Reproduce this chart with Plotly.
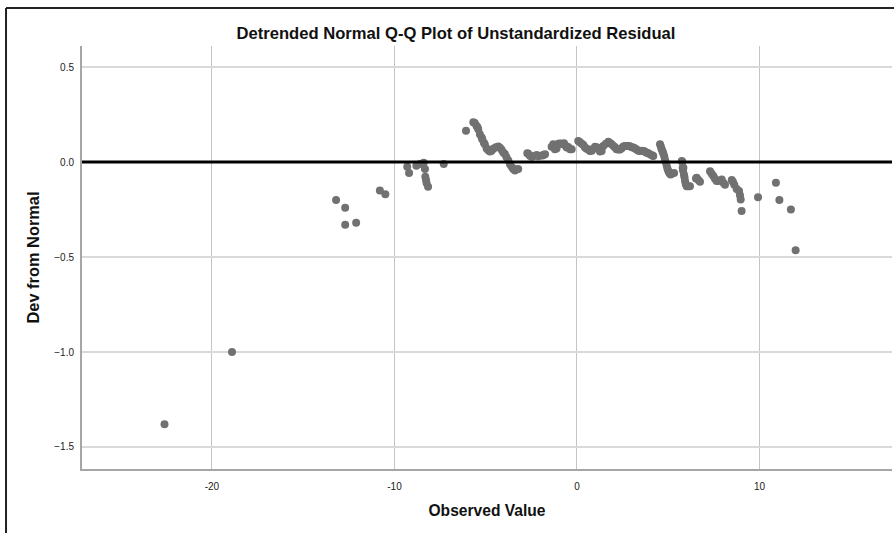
import plotly.graph_objects as go

title_text = "Detrended Normal Q-Q Plot of Unstandardized Residual"
x_title = "Observed Value"
y_title = "Dev from Normal"
x_ticks = [-20, -10, 0, 10]
y_ticks = [-1.5, -1.0, -0.5, 0.0, 0.5]

observed_value = [
    -22.6, -18.9, -13.2, -12.7, -12.7, -12.1, -10.8, -10.5,
    -9.3, -9.2, -8.8, -8.6, -8.4, -8.33, -8.31, -8.27, -8.24, -8.16, -7.3,
    -6.08, -5.68, -5.6, -5.5, -5.45, -5.41, -5.32, -5.22, -5.19, -5.1, -5.05, -4.95, -4.86, -4.77,
    -4.68, -4.58, -4.45, -4.31, -4.22, -4.13, -4.04, -3.95, -3.86, -3.76, -3.67, -3.58, -3.49, -3.4, -3.31, -3.22,
    -2.72, -2.67, -2.58, -2.48, -2.36, -2.21, -2.12, -1.93, -1.85, -1.75,
    -1.39, -1.3, -1.21, -1.12, -1.02, -0.93, -0.84, -0.75, -0.71, -0.62, -0.56, -0.48, -0.38, -0.29,
    0.07, 0.16, 0.26, 0.35, 0.44, 0.53, 0.62, 0.71, 0.81, 0.9, 0.99, 1.08, 1.17, 1.26, 1.35, 1.44,
    1.58, 1.72, 1.81, 1.9, 2.0, 2.08, 2.17, 2.27, 2.36, 2.45, 2.54, 2.63, 2.72, 2.81, 2.9, 3.0, 3.09, 3.18,
    3.27, 3.36, 3.45, 3.56, 3.67, 3.78, 3.82, 3.91, 4.02, 4.13, 4.18,
    4.55, 4.6, 4.64, 4.69, 4.73, 4.78, 4.82, 4.87, 4.92, 4.96, 5.01, 5.06, 5.1, 5.13, 5.19, 5.32,
    5.74, 5.77, 5.79, 5.81, 5.83, 5.86, 5.89, 5.92, 5.96, 6.01, 6.1, 6.19,
    6.52, 6.56, 6.65, 6.74, 7.29, 7.38, 7.47, 7.56, 7.65, 7.74, 7.93, 8.02, 8.11,
    8.48, 8.55, 8.62, 8.75, 8.88, 8.93, 8.97, 9.02,
    9.92, 10.9, 11.09, 11.72, 11.98,
]
dev_from_normal = [
    -1.38, -1.00, -0.20, -0.24, -0.33, -0.32, -0.15, -0.17,
    -0.025, -0.058, -0.02, -0.01, -0.004, -0.037, -0.078, -0.095, -0.11, -0.13, -0.01,
    0.165, 0.21, 0.205, 0.19, 0.183, 0.173, 0.146, 0.129, 0.12, 0.102, 0.094, 0.072, 0.062, 0.055,
    0.06, 0.07, 0.078, 0.082, 0.075, 0.065, 0.05, 0.043, 0.025, 0.008, -0.012, -0.026, -0.036, -0.044, -0.038, -0.036,
    0.046, 0.044, 0.033, 0.028, 0.032, 0.037, 0.03, 0.034, 0.036, 0.041,
    0.08, 0.094, 0.067, 0.072, 0.097, 0.098, 0.096, 0.094, 0.099, 0.086, 0.076, 0.079, 0.068, 0.067,
    0.111, 0.104, 0.096, 0.09, 0.076, 0.07, 0.066, 0.058, 0.06, 0.07, 0.08, 0.078, 0.072, 0.055, 0.058, 0.085,
    0.096, 0.107, 0.1, 0.094, 0.085, 0.078, 0.067, 0.066, 0.066, 0.073, 0.082, 0.085, 0.085, 0.085, 0.083, 0.078, 0.076, 0.072,
    0.066, 0.06, 0.058, 0.06, 0.058, 0.052, 0.049, 0.047, 0.04, 0.035, 0.032,
    0.094, 0.08, 0.067, 0.055, 0.045, 0.03, 0.014, -0.003, -0.021, -0.035, -0.048, -0.058, -0.062, -0.065, -0.062, -0.057,
    0.005, 0.002, -0.03, -0.045, -0.03, -0.065, -0.08, -0.10, -0.115, -0.127, -0.127, -0.127,
    -0.086, -0.083, -0.095, -0.104, -0.048, -0.062, -0.074, -0.088, -0.10, -0.10, -0.092, -0.109, -0.12,
    -0.095, -0.105, -0.12, -0.142, -0.153, -0.175, -0.197, -0.258,
    -0.185, -0.109, -0.20, -0.25, -0.464,
]

FONT = "Liberation Sans, Arial, sans-serif"

fig = go.Figure()
fig.add_trace(go.Scatter(
    x=observed_value, y=dev_from_normal, mode="markers",
    marker=dict(size=8, color="#717171", line=dict(width=0)),
    hoverinfo="skip", showlegend=False,
))

axis_font = dict(family=FONT, size=10, color="#222222")

fig.update_layout(
    width=894, height=533, autosize=False,
    margin=dict(l=82, r=2, t=46, b=64),
    paper_bgcolor="white", plot_bgcolor="white",
    title=dict(text="<b>" + title_text + "</b>", x=456 / 894, xanchor="center",
               y=1 - 33 / 533, yanchor="middle",
               font=dict(family=FONT, size=16.6, color="#111111")),
    xaxis=dict(
        range=[-27.12, 17.26], tickvals=x_ticks, ticktext=[str(v) for v in x_ticks],
        showgrid=True, gridcolor="#c4c4c4", gridwidth=1,
        zeroline=False, showline=True, linecolor="#a6a6a6", linewidth=2,
        ticks="", tickfont=axis_font, ticklabelstandoff=7,
        title=dict(text="<b>" + x_title + "</b>", standoff=14,
                   font=dict(family=FONT, size=15.6, color="#111111")),
    ),
    yaxis=dict(
        range=[-1.616, 0.611], tickvals=y_ticks, tickformat=".1f",
        showgrid=True, gridcolor="#d9d9d9", gridwidth=2,
        zeroline=False, showline=True, linecolor="#a6a6a6", linewidth=2,
        ticks="", tickfont=axis_font, ticklabelstandoff=4,
        title=dict(text="<b>" + y_title + "</b>", standoff=11,
                   font=dict(family=FONT, size=16.4, color="#111111")),
    ),
    shapes=[
        dict(type="line", xref="paper", yref="y", x0=0, x1=1, y0=0, y1=0,
             line=dict(color="black", width=3), layer="above"),
        dict(type="line", xref="paper", yref="paper", x0=-0.0938, x1=-0.0938, y0=-0.2, y1=1.0898,
             line=dict(color="#222222", width=2)),
        dict(type="line", xref="paper", yref="paper", x0=-0.0938, x1=1.01, y0=1.0898, y1=1.0898,
             line=dict(color="#222222", width=2)),
    ],
)

fig.write_html("out.html", config={"displayModeBar": False},
               post_script="document.body.style.margin='0';document.body.style.overflow='hidden';")
